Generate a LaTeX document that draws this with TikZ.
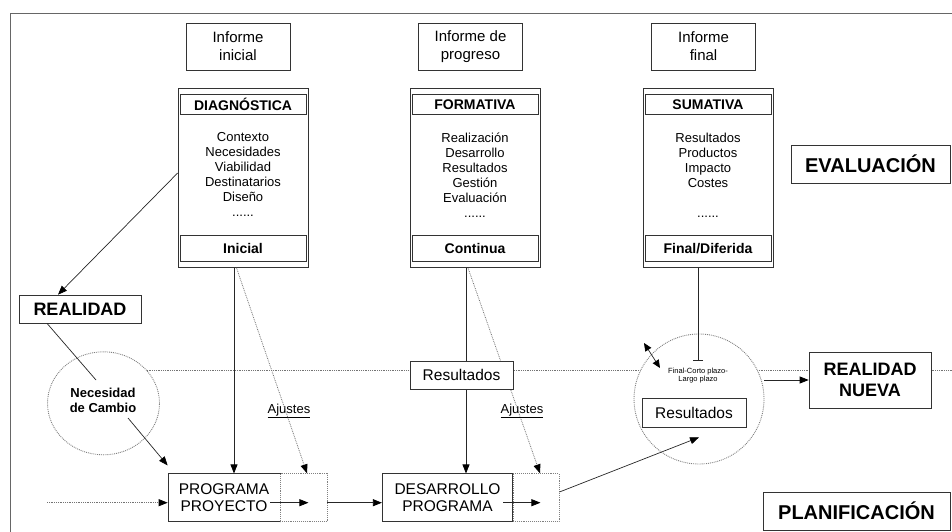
\documentclass[tikz,border=0pt]{standalone}
\usepackage{fontspec}
\setmainfont{Liberation Sans}
\usetikzlibrary{arrows.meta,shapes.geometric,backgrounds}

\tikzset{
  box/.style={draw=black!80, fill=white, line width=0.7pt, inner sep=0pt, align=center},
  dbox/.style={draw=black!50, densely dotted, fill=white, line width=0.9pt, inner sep=0pt},
  dline/.style={draw=black!55, densely dotted, line width=0.8pt},
  frame/.style={draw=black!60, line width=0.9pt},
  tip/.style={-{Triangle[length=9pt,width=7pt,color=black]}},
  arr/.style={draw=black!85, line width=0.7pt, tip},
  informe/.style={box, minimum width=104pt, minimum height=47pt, font=\fontsize{15}{18}\selectfont},
  colbox/.style={box, minimum width=130pt, minimum height=179pt},
  colhead/.style={box, minimum width=126pt, minimum height=20pt, font=\bfseries\fontsize{14}{16}\selectfont},
  colfoot/.style={box, minimum width=126pt, minimum height=26pt, font=\bfseries\fontsize{14}{16}\selectfont},
  collist/.style={inner sep=0pt, align=center, anchor=north, font=\fontsize{13}{15}\selectfont},
  title/.style={box, font=\bfseries\fontsize{20}{23}\selectfont},
  ajuste/.style={inner sep=0pt, font=\fontsize{13}{15}\selectfont},
  plan/.style={box, font=\fontsize{15.5}{16.5}\selectfont}
}

\begin{document}
\begin{tikzpicture}[x=1pt,y=-1pt]
\useasboundingbox (0,0) rectangle (952,532);

% page frame (top and left edges)
\draw[frame] (10,532) -- (10,13) -- (952,13);

% report boxes
\node[informe] (ii) at (238,46.5) {Informe\\inicial};
\node[informe] (ip) at (470.5,46.5) {Informe de\\progreso};
\node[informe] (if) at (703.5,46.5) {Informe\\final};

% evaluation columns
\node[colbox] (dg) at (243,178) {};
\node[colhead] (dgh) at (243,104.3) {DIAGNÓSTICA};
\node[colfoot] (dgf) at (243,248.5) {Inicial};
\node[collist] (dgt) at (243,132.5) {Contexto\\Necesidades\\Viabilidad\\Destinatarios\\Diseño\\......};

\node[colbox] (fm) at (475,178) {};
\node[colhead] (fmh) at (475,104.3) {FORMATIVA};
\node[colfoot] (fmf) at (475,248.5) {Continua};
\node[collist] (fmt) at (475,132.5) {Realización\\Desarrollo\\Resultados\\Gestión\\Evaluación\\......};

\node[colbox] (sm) at (708,178) {};
\node[colhead] (smh) at (708,104.3) {SUMATIVA};
\node[colfoot] (smf) at (708,248.5) {Final/Diferida};
\node[collist] (smt) at (708,132.5) {Resultados\\Productos\\Impacto\\Costes\\[15pt]......};

% section titles
\node[title, minimum width=159pt, minimum height=38pt] (ev) at (870.5,164) {EVALUACIÓN};
\node[title, minimum width=187pt, minimum height=38pt] (pl) at (856.5,511) {PLANIFICACIÓN};
\node[title, font=\bfseries\fontsize{18}{21.7}\selectfont, minimum width=122pt, minimum height=28pt] (re) at (80,309) {REALIDAD};
\node[title, font=\bfseries\fontsize{18}{21.7}\selectfont, minimum width=122pt, minimum height=56pt] (rn) at (870,380) {REALIDAD\\NUEVA};

% circles
\node[ellipse, dbox, minimum width=112pt, minimum height=103pt] (nc) at (103.5,403.3) {};
\node[inner sep=0pt, align=center, font=\bfseries\fontsize{13}{15}\selectfont] (nct) at (103,400) {Necesidad\\de Cambio};
\node[circle, dbox, minimum size=130pt] (bc) at (699,399) {};
\node[inner sep=0pt, align=center, font=\fontsize{7.5}{8}\selectfont] (fc) at (698,376) {Final-Corto plazo-\\Largo plazo};
\node[box, minimum width=104pt, minimum height=29pt, font=\fontsize{15.5}{18}\selectfont] (res2) at (694,412.5) {Resultados};

% results on the timeline
\node[box, minimum width=103pt, minimum height=28pt, font=\fontsize{15.5}{18}\selectfont] (res) at (461.5,375) {Resultados};

% planning boxes
\node[plan, minimum width=112pt, minimum height=48pt] (pp) at (224,497.8) {PROGRAMA\\PROYECTO};
\node[dbox, minimum width=47pt, minimum height=48pt] (ppx) at (303.5,497.8) {};
\node[plan, minimum width=130.5pt, minimum height=48pt] (dp) at (447.5,497.8) {DESARROLLO\\PROGRAMA};
\node[dbox, minimum width=46pt, minimum height=48pt] (dpx) at (536,497.8) {};

% labels
\node[ajuste] (aj1) at (289,411) {\underline{Ajustes}};
\node[ajuste] (aj2) at (522,411) {\underline{Ajustes}};

% free ends of the timeline and helper points
\coordinate (hl0) at (103.5,370);
\coordinate (hl1) at (952,370);
\coordinate (inL) at (47,502.7);
\coordinate (smb) at ([xshift=-10pt]sm.south);
\coordinate (fct) at ([yshift=8pt]fc.north);

\begin{pgfonlayer}{background}
  % dotted timeline, hidden behind the filled shapes
  \draw[dline] (hl0) -- (hl1);
  % formative evaluation feeding development
  \draw[arr] ([xshift=-9pt]fm.south) -- ([xshift=-9pt]fm.south |- dp.north);
  \draw[dline, tip] ([xshift=-7pt]fm.south) -- ([xshift=4pt]dpx.north);
\end{pgfonlayer}

% diagnostic evaluation feeding the programme
\draw[arr] ([xshift=-9pt]dg.south) -- ([xshift=-9pt]dg.south |- pp.north);
\draw[dline, tip] ([xshift=-6.5pt]dg.south) -- ([xshift=3.5pt]ppx.north);

% reality and need for change
\draw[arr] ([yshift=5pt]dg.west) -- ([xshift=-22pt]re.north);
\draw[draw=black!85, line width=0.7pt] ([xshift=-33pt]re.south) -- ([xshift=-7.5pt,yshift=23.3pt]nc.center);
\draw[arr] ([xshift=24.5pt,yshift=-14.7pt]nc.center) -- ([yshift=8pt]pp.north west);

% planning flow
\draw[dline, tip] (inL) -- (pp.west |- inL);
\draw[arr] ([xshift=-10pt]pp.east |- inL) -- ([xshift=-19pt]ppx.east |- inL);
\draw[arr] (ppx.east |- inL) -- (dp.west |- inL);
\draw[arr] ([xshift=-10pt]dp.east |- inL) -- ([xshift=-19pt]dpx.east |- inL);
\draw[arr] ([yshift=5.8pt]dpx.east) -- ([xshift=5pt,yshift=-10pt]res2.south);

% summative evaluation and outcomes
\draw[draw=black!85, line width=0.7pt, -{Bar[width=10pt]}] (smb) -- (smb |- fct);
\draw[draw=black!85, line width=0.7pt, {Triangle[length=8pt,width=7pt,color=black]}-{Triangle[length=8pt,width=7pt,color=black]}]
  ([xshift=-55pt,yshift=56pt]bc.center) -- ([xshift=-39pt,yshift=31pt]bc.center);
\draw[arr] (bc.east |- rn.center) -- (rn.west);
\end{tikzpicture}
\end{document}
